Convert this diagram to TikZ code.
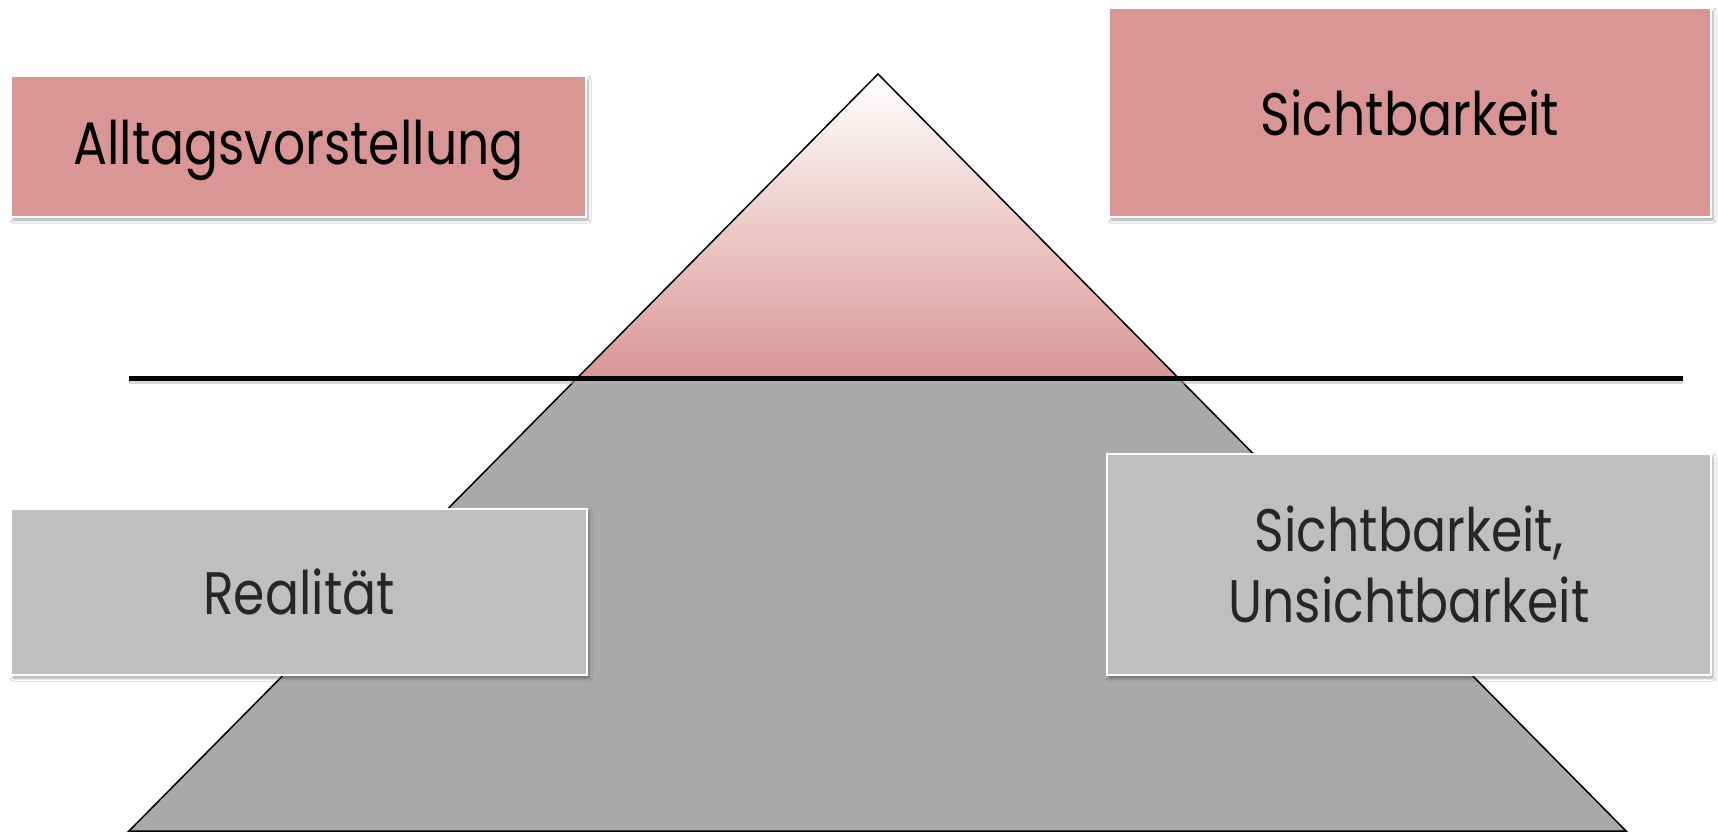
\documentclass[tikz,border=0pt]{standalone}
\usepackage{fontspec}
\setmainfont{Poppins}[FakeStretch=0.84]
\usetikzlibrary{shadows.blur}
\definecolor{pinkbox}{HTML}{D99694}
\definecolor{graybox}{HTML}{BFBFBF}
\definecolor{graytri}{HTML}{A9A9A9}
\definecolor{darktext}{HTML}{262626}
\begin{document}
\begin{tikzpicture}[x=1pt,y=-1pt,
  box/.style={rectangle, draw=white, line width=1.2pt, inner sep=0pt, align=center,
    font=\fontsize{60}{71}\selectfont,
    blur shadow={shadow xshift=2pt, shadow yshift=-3pt, shadow blur radius=3pt, shadow opacity=35}},
  pinkb/.style={box, fill=pinkbox, text=black},
  grayb/.style={box, fill=graybox, text=darktext},
  edge/.style={line width=1.5pt, line join=miter}]
\useasboundingbox (0,0) rectangle (1718,835);
\fill[white] (0,0) rectangle (1718,835);
\coordinate (apex) at (878,74);
\coordinate (bl) at (129,831);
\coordinate (br) at (1626,831);
\coordinate (il) at (577,378);
\coordinate (ir) at (1178,378);
\coordinate (hl) at (129,378);
\coordinate (hr) at (1683,378);
\shade[top color=white, bottom color=pinkbox] (apex) -- (il) -- (ir) -- cycle;
\fill[graytri] (il) -- (bl) -- (br) -- (ir) -- cycle;
\draw[edge] (apex) -- (bl) -- (br) -- cycle;
\draw[line width=4pt, black!30, opacity=0.5] ([yshift=-3.5pt]hl) -- ([yshift=-3.5pt]hr);
\draw[line width=5pt] (hl) -- (hr);
\node[pinkb, minimum width=575pt, minimum height=141pt, text depth=8pt] (alltag) at (298.5,146.5) {Alltagsvorstellung};
\node[pinkb, minimum width=602pt, minimum height=209pt] (sicht) at (1410,112.5) {Sichtbarkeit};
\node[grayb, minimum width=576pt, minimum height=166pt] (real) at (299,592) {Realität};
\node[grayb, minimum width=604pt, minimum height=221pt] (unsicht) at (1409,564.5) {Sichtbarkeit,\\Unsichtbarkeit};
\end{tikzpicture}
\end{document}
